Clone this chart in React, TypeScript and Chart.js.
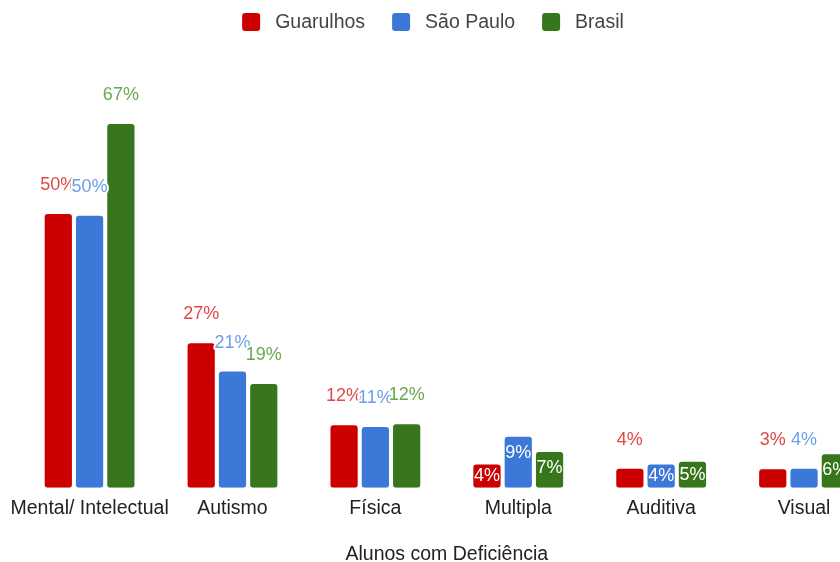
import React, { useEffect, useRef } from "react";
import { Chart, registerables } from "chart.js";

Chart.register(...registerables);

const categories = ["Mental/ Intelectual", "Autismo", "Física", "Multipla", "Auditiva", "Visual"];
const seriesNames = ["Guarulhos", "São Paulo", "Brasil"];
const guarulhos = [50.4, 26.6, 11.5, 4.3, 3.5, 3.4];
const saoPaulo = [50.1, 21.4, 11.2, 9.4, 4.3, 3.5];
const brasil = [67.0, 19.1, 11.7, 6.6, 4.8, 6.2];
const barColors = ["#cc0000", "#3c78d8", "#38761d"];
const labelColors = ["#e04848", "#6d9eeb", "#6aa84f"];
const axisTitle = "Alunos com Deficiência";

const FONT = "'Liberation Sans', Arial, sans-serif";

const labelPlugin = {
  id: "barLabels",
  afterDatasetsDraw(chart: any) {
    const ctx = chart.ctx;
    ctx.save();
    ctx.font = `18px ${FONT}`;
    ctx.textAlign = "center";
    ctx.textBaseline = "middle";
    ctx.lineJoin = "round";
    chart.data.datasets.forEach((ds: any, di: number) => {
      const meta = chart.getDatasetMeta(di);
      meta.data.forEach((bar: any, i: number) => {
        const v = ds.data[i] as number;
        const text = `${Math.round(v)}%`;
        const h = bar.base - bar.y;
        if (v >= 4 && v < 10) {
          const y = bar.y + Math.min(16, h / 2);
          ctx.lineWidth = 2;
          ctx.strokeStyle = barColors[di];
          ctx.strokeText(text, bar.x, y);
          ctx.fillStyle = "#ffffff";
          ctx.fillText(text, bar.x, y);
        } else {
          const y = bar.y - 29;
          ctx.lineWidth = 4;
          ctx.strokeStyle = "#ffffff";
          ctx.strokeText(text, bar.x, y);
          ctx.fillStyle = labelColors[di];
          ctx.fillText(text, bar.x, y);
        }
      });
    });
    ctx.restore();
  },
};

const legendPlugin = {
  id: "customLegend",
  afterDraw(chart: any) {
    const ctx = chart.ctx;
    ctx.save();
    ctx.font = `19.5px ${FONT}`;
    ctx.textBaseline = "middle";
    ctx.textAlign = "left";
    const box = 18;
    const gapText = 15;
    const gapItem = 27;
    const names = chart.data.datasets.map((d: any) => d.label as string);
    const widths = names.map((n: string) => ctx.measureText(n).width);
    const total = widths.reduce((a: number, w: number) => a + box + gapText + w, 0) + gapItem * (names.length - 1);
    let x = 433 - total / 2;
    const cy = 22;
    names.forEach((n: string, i: number) => {
      ctx.fillStyle = barColors[i];
      ctx.beginPath();
      (ctx as any).roundRect(x, cy - box / 2, box, box, 3);
      ctx.fill();
      ctx.fillStyle = "#444444";
      ctx.fillText(n, x + box + gapText, cy + 1);
      x += box + gapText + widths[i] + gapItem;
    });
    ctx.restore();
  },
};

export default function App() {
  const ref = useRef<HTMLCanvasElement | null>(null);
  useEffect(() => {
    if (!ref.current) return;
    const values = [guarulhos, saoPaulo, brasil];
    const chart = new Chart(ref.current, {
      type: "bar",
      data: {
        labels: categories,
        datasets: seriesNames.map((name, i) => ({
          label: name,
          data: values[i],
          backgroundColor: barColors[i],
          borderRadius: 3,
          borderSkipped: false,
          categoryPercentage: 0.657,
          barPercentage: 0.87,
        })),
      },
      options: {
        animation: false,
        responsive: false,
        devicePixelRatio: 1,
        layout: { padding: { top: 107.6, left: 17.5, right: 4.5, bottom: 0 } },
        plugins: {
          legend: { display: false },
          tooltip: { enabled: false },
        },
        scales: {
          x: {
            grid: { display: false, drawTicks: false },
            border: { display: false },
            ticks: {
              padding: 9,
              color: "#222222",
              font: { family: FONT, size: 19.5 },
              maxRotation: 0,
              autoSkip: false,
            },
            title: {
              display: true,
              text: axisTitle,
              color: "#222222",
              font: { family: FONT, size: 19.5 },
              padding: { top: 13.4, bottom: -4 },
            },
          },
          y: {
            display: false,
            min: 0,
            max: 70,
          },
        },
      },
      plugins: [labelPlugin, legendPlugin],
    });
    return () => chart.destroy();
  }, []);
  return (
    <div style={{ position: "fixed", left: 0, top: 0, width: 840, height: 562, overflow: "hidden", background: "#ffffff" }}>
      <canvas ref={ref} width={880} height={562} style={{ display: "block", width: 880, height: 562 }} />
    </div>
  );
}
